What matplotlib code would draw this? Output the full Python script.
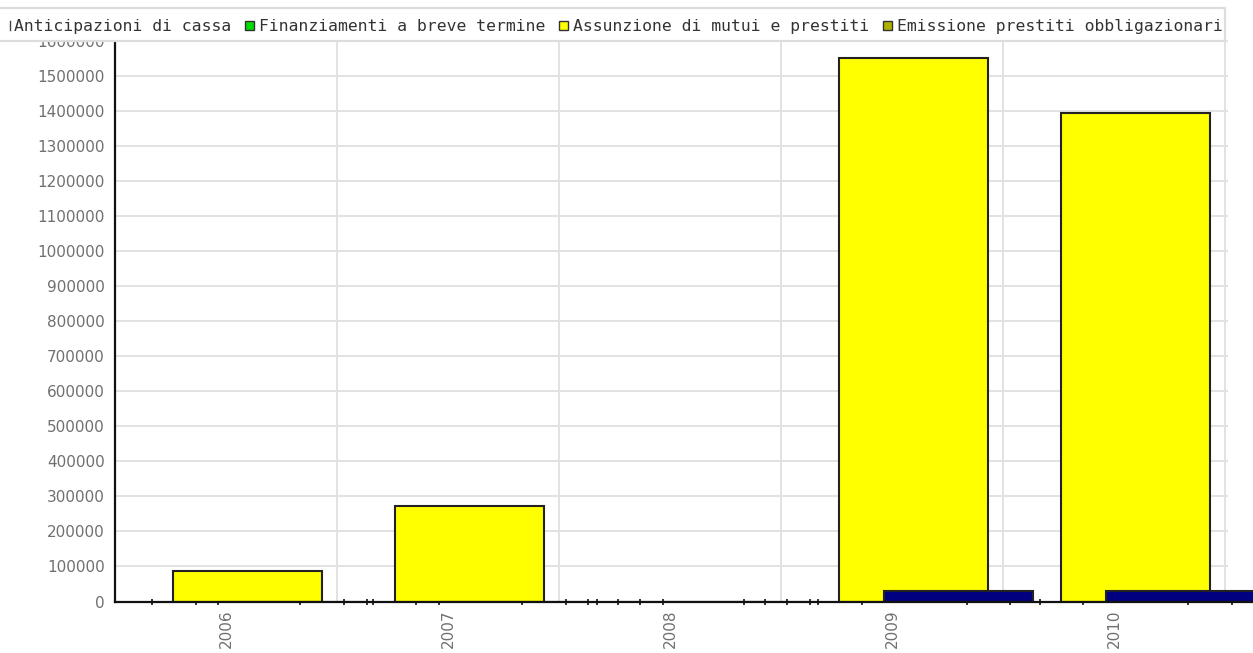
import matplotlib
matplotlib.use("Agg")
import matplotlib.pyplot as plt
from matplotlib.patches import Rectangle
import numpy as np

# ---- data ----
years = ["2006", "2007", "2008", "2009", "2010"]
assunzione_mutui = [86500, 271500, 0, 1551000, 1395000]
altro_serie = [0, 0, 0, 29000, 29000]
legend_labels = ["Anticipazioni di cassa", "Finanziamenti a breve termine",
                 "Assunzione di mutui e prestiti", "Emissione prestiti obbligazionari"]
legend_colors = ["#ffffff", "#00dd00", "#ffff00", "#b0b000"]
yticks = list(range(0, 1600001, 100000))

W, H = 1253, 653
fig = plt.figure(figsize=(W / 100, H / 100), dpi=100)

# axes geometry in pixels
ax_left, ax_right, ax_bottom_px, ax_top_px = 115, 1253, 601.5, 41
ax = fig.add_axes([ax_left / W, (H - ax_bottom_px) / H,
                   (ax_right - ax_left) / W, (ax_bottom_px - ax_top_px) / H])

cat_w = 222.0
c0 = 226.0
px2d = lambda p: (p - c0) / cat_w
ax.set_xlim(px2d(ax_left), px2d(ax_right))
ax.set_ylim(0, 1600000)

x = np.arange(len(years))
bw = 0.669
ax.bar(x + 0.098, assunzione_mutui, width=bw, color="#ffff00",
       edgecolor="#222222", linewidth=1.5, zorder=3)
ax.bar(x + 0.299, altro_serie, width=bw, color="#000080",
       edgecolor="#222222", linewidth=1.5, zorder=4)

# grid
grid_c = "#e2e2e2"
xr = px2d(1227)
for yv in yticks:
    ax.plot([px2d(ax_left), xr], [yv, yv], color=grid_c, lw=1.4, zorder=1, clip_on=False)
for i in range(len(years)):
    ax.plot([i + 0.5, i + 0.5], [0, 1600000], color=grid_c, lw=1.4, zorder=1)

for s in ["top", "right"]:
    ax.spines[s].set_visible(False)
for s in ["left", "bottom"]:
    ax.spines[s].set_color("#111111")
    ax.spines[s].set_linewidth(1.6)
    ax.spines[s].set_zorder(5)

ax.set_yticks(yticks)
ax.set_yticklabels([str(v) for v in yticks])
ax.tick_params(axis="y", length=0, pad=7.5, labelsize=11, labelcolor="#707070")

ax.set_xticks(x)
ax.set_xticklabels(years, rotation=90, va="top", ha="center")
ax.tick_params(axis="x", which="major", length=0, pad=6, labelsize=11, labelcolor="#707070")
minor_px = [152, 196, 218, 300, 344, 367, 373, 416, 439, 522, 566, 588, 597, 618, 640,
            663, 744, 765, 787, 810, 818, 862, 967, 1010, 1040, 1083, 1188, 1232]
ax.set_xticks([px2d(p) for p in minor_px], minor=True)
ax.tick_params(axis="x", which="minor", length=4, width=1.2, direction="inout", color="#111111")

# ---- legend (manual, clipped on left) ----
lax = fig.add_axes([0, 0, 1, 1], zorder=10)
lax.set_xlim(0, W)
lax.set_ylim(H, 0)
lax.axis("off")
lax.add_patch(Rectangle((-5, 8), 1225 + 5, 33, facecolor="white",
                        edgecolor="#dddddd", linewidth=1.6))
lax.plot([9.5, 9.5], [21, 30], color="#444444", lw=1.0)
text_x = [14, 259, 573, 897]
sq_x = [None, 245, 559, 883]
for lbl, col, tx, sx in zip(legend_labels, legend_colors, text_x, sq_x):
    if sx is not None:
        lax.add_patch(Rectangle((sx, 21), 9, 9, facecolor=col, edgecolor="#333333", linewidth=1.0))
    lax.text(tx, 31, lbl, fontsize=11.8, family="DejaVu Sans Mono", color="#333333",
             va="baseline", ha="left")

fig.savefig("out.png", dpi=100)
